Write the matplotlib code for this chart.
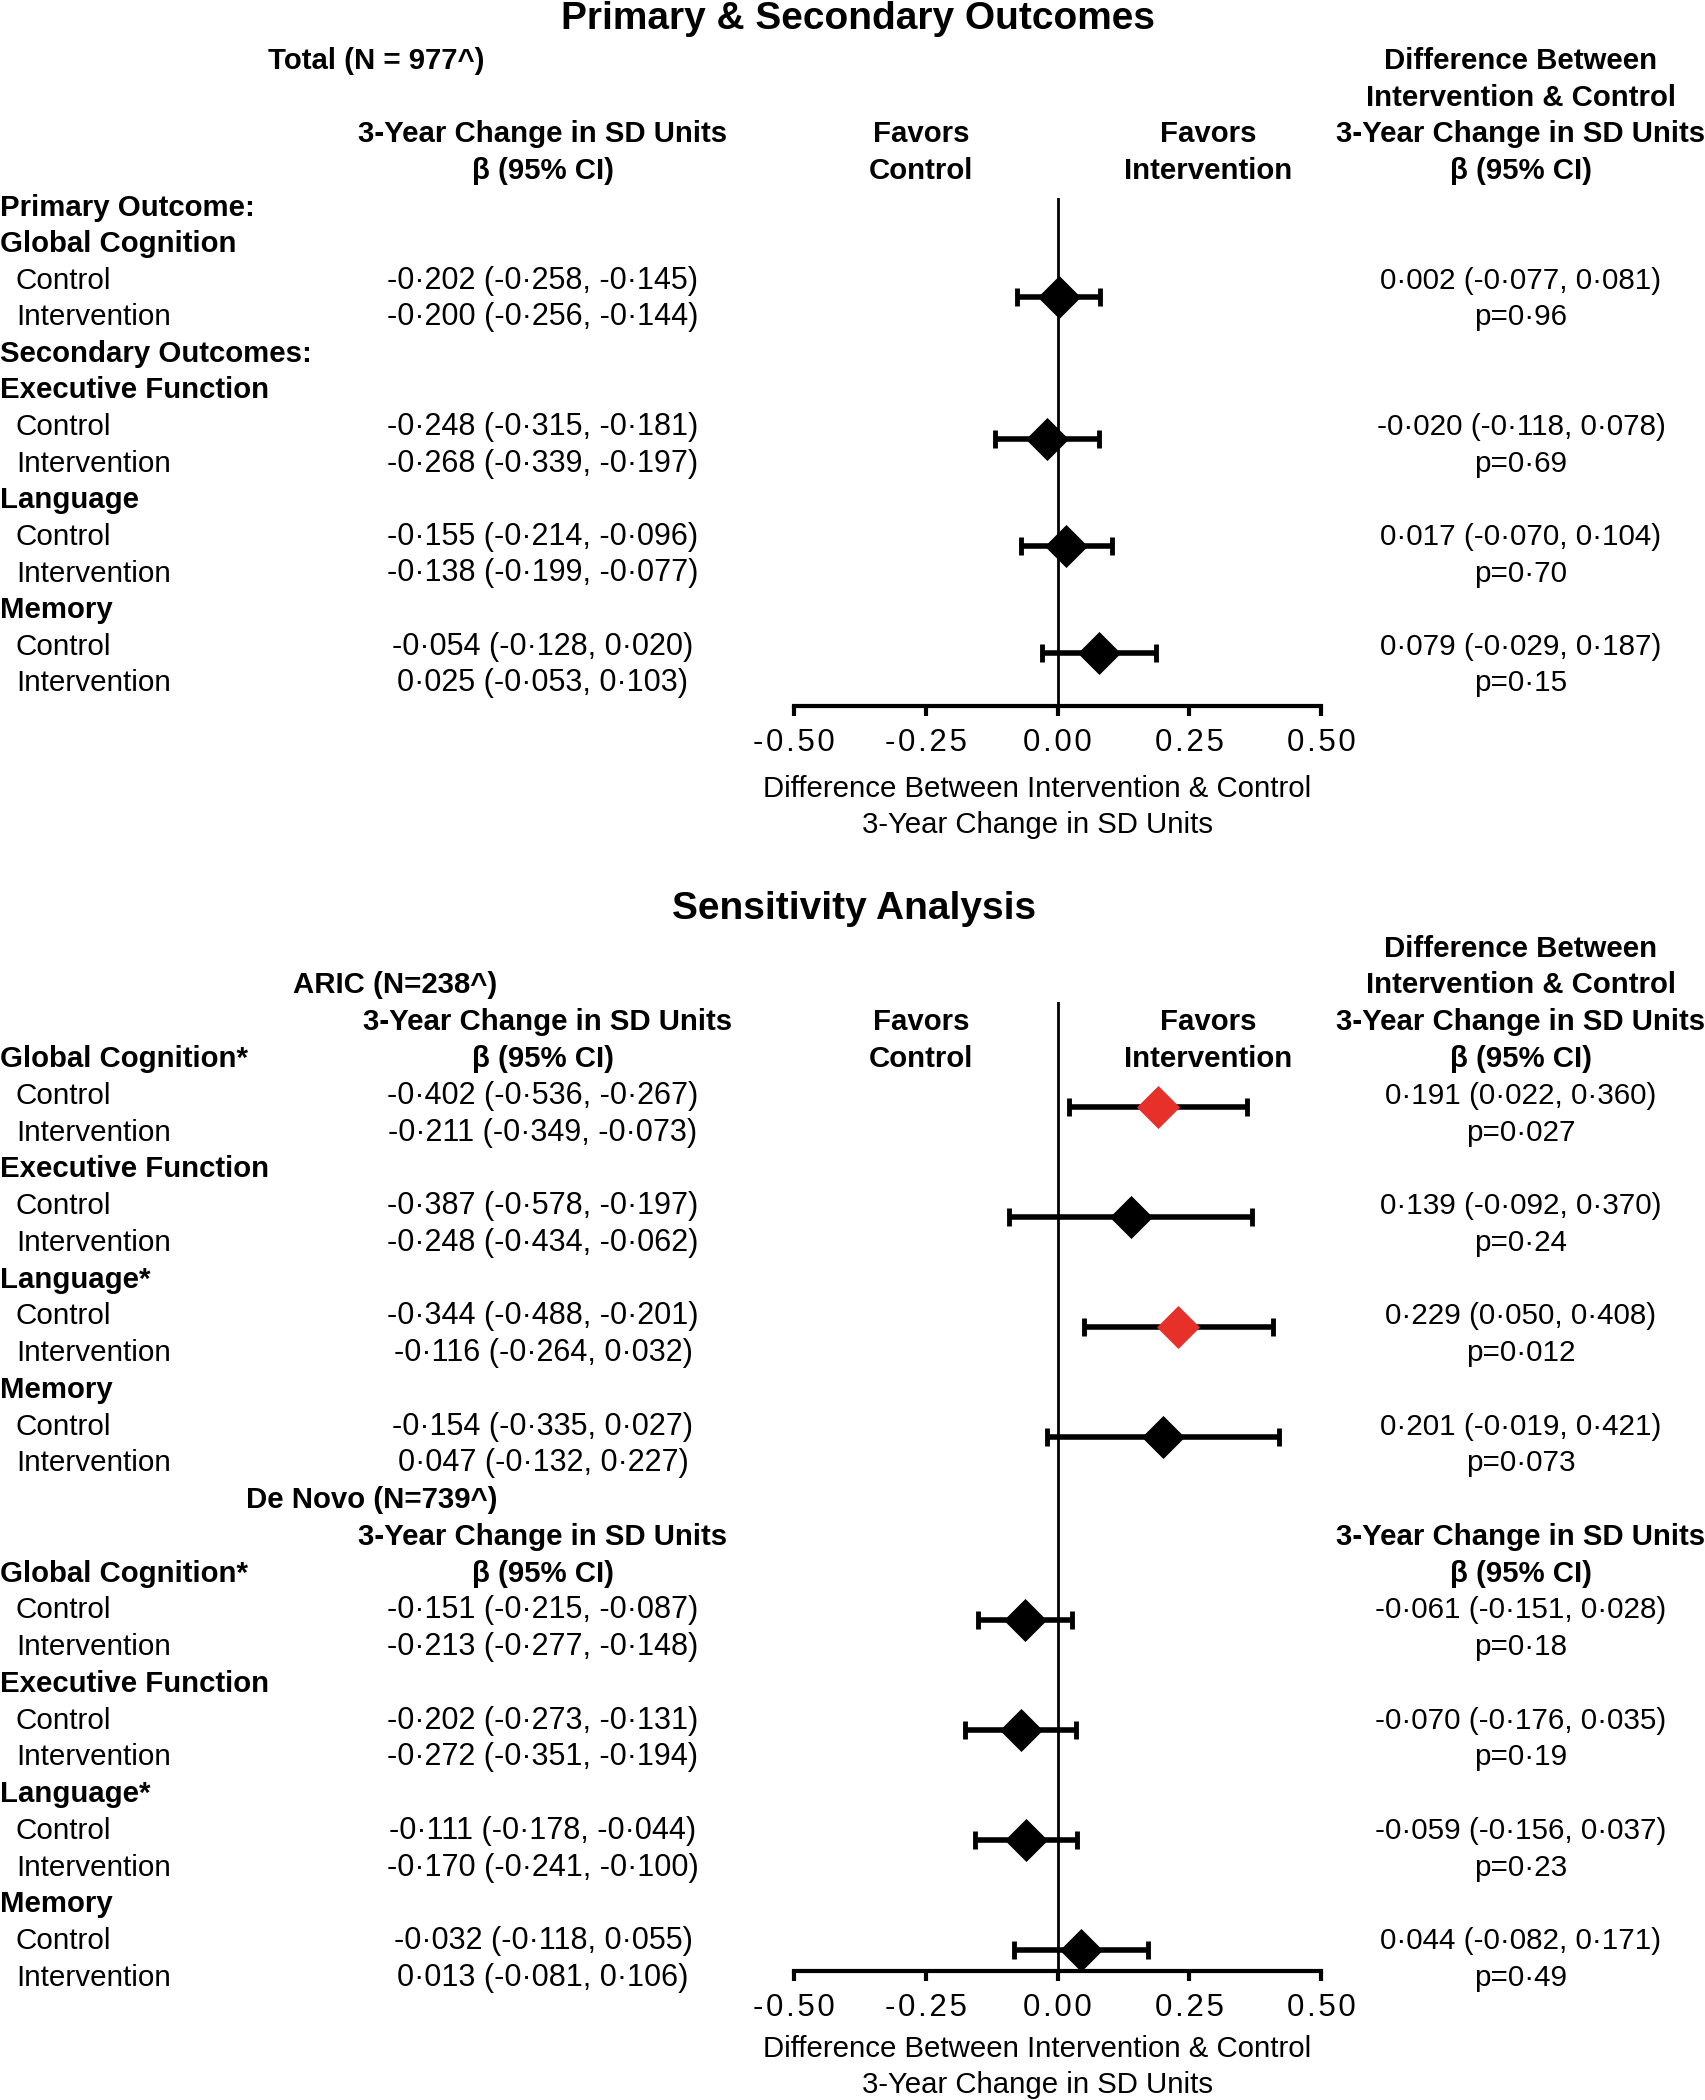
import matplotlib
matplotlib.use("Agg")
import matplotlib.pyplot as plt
from matplotlib import font_manager as fm

# ---------------- data ----------------
outcomes = ["Global Cognition", "Executive Function", "Language", "Memory"]
sens_outcomes = ["Global Cognition*", "Executive Function", "Language*", "Memory"]
arms = ["Control", "Intervention"]

# Total (N = 977)
tot_ctrl_est = [-0.202, -0.248, -0.155, -0.054]
tot_ctrl_lo = [-0.258, -0.315, -0.214, -0.128]
tot_ctrl_hi = [-0.145, -0.181, -0.096, 0.020]
tot_int_est = [-0.200, -0.268, -0.138, 0.025]
tot_int_lo = [-0.256, -0.339, -0.199, -0.053]
tot_int_hi = [-0.144, -0.197, -0.077, 0.103]
tot_diff = [0.002, -0.020, 0.017, 0.079]
tot_diff_lo = [-0.077, -0.118, -0.070, -0.029]
tot_diff_hi = [0.081, 0.078, 0.104, 0.187]
tot_p = ["0·96", "0·69", "0·70", "0·15"]

# ARIC (N = 238)
aric_ctrl_est = [-0.402, -0.387, -0.344, -0.154]
aric_ctrl_lo = [-0.536, -0.578, -0.488, -0.335]
aric_ctrl_hi = [-0.267, -0.197, -0.201, 0.027]
aric_int_est = [-0.211, -0.248, -0.116, 0.047]
aric_int_lo = [-0.349, -0.434, -0.264, -0.132]
aric_int_hi = [-0.073, -0.062, 0.032, 0.227]
aric_diff = [0.191, 0.139, 0.229, 0.201]
aric_diff_lo = [0.022, -0.092, 0.050, -0.019]
aric_diff_hi = [0.360, 0.370, 0.408, 0.421]
aric_p = ["0·027", "0·24", "0·012", "0·073"]
aric_sig = [True, False, True, False]

# De Novo (N = 739)
dn_ctrl_est = [-0.151, -0.202, -0.111, -0.032]
dn_ctrl_lo = [-0.215, -0.273, -0.178, -0.118]
dn_ctrl_hi = [-0.087, -0.131, -0.044, 0.055]
dn_int_est = [-0.213, -0.272, -0.170, 0.013]
dn_int_lo = [-0.277, -0.351, -0.241, -0.081]
dn_int_hi = [-0.148, -0.194, -0.100, 0.106]
dn_diff = [-0.061, -0.070, -0.059, 0.044]
dn_diff_lo = [-0.151, -0.176, -0.156, -0.082]
dn_diff_hi = [0.028, 0.035, 0.037, 0.171]
dn_p = ["0·18", "0·19", "0·23", "0·49"]
dn_sig = [False, False, False, False]

tick_values = [-0.50, -0.25, 0.00, 0.25, 0.50]
tick_labels = ["-0.50", "-0.25", "0.00", "0.25", "0.50"]

# ---------------- style ----------------
names = {f.name for f in fm.fontManager.ttflist}
BASE = "Liberation Sans Narrow" if "Liberation Sans Narrow" in names else "Liberation Sans"
plt.rcParams["font.family"] = [BASE, "DejaVu Sans"]

RED = "#E8302A"
FS_B = 21.2     # bold headers
FS_R = 21.3     # regular labels
FS_M = 22       # middle column values
W, H = 1706, 2100
fig = plt.figure(figsize=(W / 100, H / 100), dpi=100)
fig.patch.set_facecolor("white")


def fmt(v):
    return f"{v:.3f}".replace(".", "·")


def ci(e, lo, hi):
    return f"{fmt(e)} ({fmt(lo)}, {fmt(hi)})"


def T(x, y, s, bold=False, size=None, ha="center"):
    if size is None:
        size = FS_B if bold else FS_R
    fig.text(x / W, 1 - y / H, s, ha=ha, va="center", fontsize=size,
             fontweight="bold" if bold else "normal", color="black")


def spaced(s):
    return "\u200a".join(list(s))


X_LAB, X_ARM, X_MID, X_RIGHT = 0, 16, 543, 1521
X_FAV_C, X_FAV_I = 921, 1208
AX_L, AX_R = 794, 1321
DIAMOND = [(0, 1), (1, 0), (0, -1), (-1, 0)]


def make_axis(top_px, bottom_px, row0_px, step, label_y):
    ax = fig.add_axes([AX_L / W, 1 - bottom_px / H, (AX_R - AX_L) / W, (bottom_px - top_px) / H])
    ax.set_xlim(-0.5, 0.5)
    ax.set_ylim((bottom_px - row0_px) / step, (top_px - row0_px) / step)
    ax.patch.set_alpha(0)
    for s in ["top", "left", "right"]:
        ax.spines[s].set_visible(False)
    ax.spines["bottom"].set_linewidth(3)
    ax.set_yticks([])
    ax.set_xticks(tick_values)
    ax.set_xticklabels([spaced(t) for t in tick_labels], fontsize=22.5)
    ax.tick_params(axis="x", direction="out", length=7, width=3, pad=9)
    ax.axvline(0, color="black", lw=2, zorder=1)
    T(1037, label_y, "Difference Between Intervention & Control", size=21.2)
    T(1037, label_y + 36, "3-Year Change in SD Units", size=21.2)
    return ax


def forest(ax, rows, d, lo, hi, sig):
    for r, dv, l, h, s in zip(rows, d, lo, hi, sig):
        ax.errorbar([dv], [r], xerr=[[dv - l], [h - dv]], fmt="none", ecolor="black",
                    elinewidth=4, capsize=6.5, capthick=3.5, zorder=2)
        ax.plot([dv], [r], marker=DIAMOND, markersize=31, color=RED if s else "black",
                markeredgewidth=0, linestyle="none", zorder=3)


# ---------------- top panel ----------------
R0, S = 207.5, 36.6
def y1(r):
    return R0 + r * S

T(858, 19, "Primary & Secondary Outcomes", bold=True, size=28)
T(376, y1(-4), "Total (N = 977^)", bold=True)
T(X_MID, y1(-2), "3-Year Change in SD Units", bold=True)
T(X_MID, y1(-1), "β (95% CI)", bold=True)
T(X_FAV_C, y1(-2), "Favors", bold=True)
T(X_FAV_C, y1(-1), "Control", bold=True)
T(X_FAV_I, y1(-2), "Favors", bold=True)
T(X_FAV_I, y1(-1), "Intervention", bold=True)
for k, s in enumerate(["Difference Between", "Intervention & Control",
                       "3-Year Change in SD Units", "β (95% CI)"]):
    T(X_RIGHT, y1(-4 + k), s, bold=True)

T(X_LAB, y1(0), "Primary Outcome:", bold=True, ha="left")
T(X_LAB, y1(4), "Secondary Outcomes:", bold=True, ha="left")
top_group_rows = [1, 5, 8, 11]
top_mark_rows = []
for i, g in enumerate(outcomes):
    gr = top_group_rows[i]
    T(X_LAB, y1(gr), g, bold=True, ha="left")
    T(X_ARM, y1(gr + 1), arms[0], ha="left")
    T(X_ARM, y1(gr + 2), arms[1], ha="left")
    T(X_MID, y1(gr + 1), ci(tot_ctrl_est[i], tot_ctrl_lo[i], tot_ctrl_hi[i]), size=FS_M)
    T(X_MID, y1(gr + 2), ci(tot_int_est[i], tot_int_lo[i], tot_int_hi[i]), size=FS_M)
    T(X_RIGHT, y1(gr + 1), ci(tot_diff[i], tot_diff_lo[i], tot_diff_hi[i]))
    T(X_RIGHT, y1(gr + 2), "p=" + tot_p[i])
    top_mark_rows.append(gr + 1.5)

# forest rows use a slightly tighter spacing than the text rows
ax1 = make_axis(198, 706, 208, 35.6, 789)
forest(ax1, top_mark_rows, tot_diff, tot_diff_lo, tot_diff_hi, [False] * 4)

# ---------------- bottom panel ----------------
R1, S1 = 1059, 36.76
def y2(r):
    return R1 + r * S1

T(854, 909, "Sensitivity Analysis", bold=True, size=28)
for k, s in enumerate(["Difference Between", "Intervention & Control",
                       "3-Year Change in SD Units", "β (95% CI)"]):
    T(X_RIGHT, y2(-3 + k), s, bold=True)
T(395, y2(-2), "ARIC (N=238^)", bold=True)
T(548, y2(-1), "3-Year Change in SD Units", bold=True)
T(X_MID, y2(0), "β (95% CI)", bold=True)
T(X_FAV_C, y2(-1), "Favors", bold=True)
T(X_FAV_C, y2(0), "Control", bold=True)
T(X_FAV_I, y2(-1), "Favors", bold=True)
T(X_FAV_I, y2(0), "Intervention", bold=True)

T(372, y2(12), "De Novo (N=739^)", bold=True)
T(X_MID, y2(13), "3-Year Change in SD Units", bold=True)
T(X_MID, y2(14), "β (95% CI)", bold=True)
T(X_RIGHT, y2(13), "3-Year Change in SD Units", bold=True)
T(X_RIGHT, y2(14), "β (95% CI)", bold=True)

sens = [
    (0, aric_ctrl_est, aric_ctrl_lo, aric_ctrl_hi, aric_int_est, aric_int_lo, aric_int_hi,
     aric_diff, aric_diff_lo, aric_diff_hi, aric_p, aric_sig),
    (14, dn_ctrl_est, dn_ctrl_lo, dn_ctrl_hi, dn_int_est, dn_int_lo, dn_int_hi,
     dn_diff, dn_diff_lo, dn_diff_hi, dn_p, dn_sig),
]
ax2 = make_axis(1002, 1971, 1052, 36.65, 2049)
for start, ce, cl, ch, ie, il, ih, d, dl, dh, p, sg in sens:
    mrows = []
    for i, g in enumerate(sens_outcomes):
        gr = start + 3 * i
        T(X_LAB, y2(gr), g, bold=True, ha="left")
        T(X_ARM, y2(gr + 1), arms[0], ha="left")
        T(X_ARM, y2(gr + 2), arms[1], ha="left")
        T(X_MID, y2(gr + 1), ci(ce[i], cl[i], ch[i]), size=FS_M)
        T(X_MID, y2(gr + 2), ci(ie[i], il[i], ih[i]), size=FS_M)
        T(X_RIGHT, y2(gr + 1), ci(d[i], dl[i], dh[i]))
        T(X_RIGHT, y2(gr + 2), "p=" + p[i])
        mrows.append(gr + 1.5)
    forest(ax2, mrows, d, dl, dh, sg)

fig.savefig("out.png", dpi=100, facecolor="white")
